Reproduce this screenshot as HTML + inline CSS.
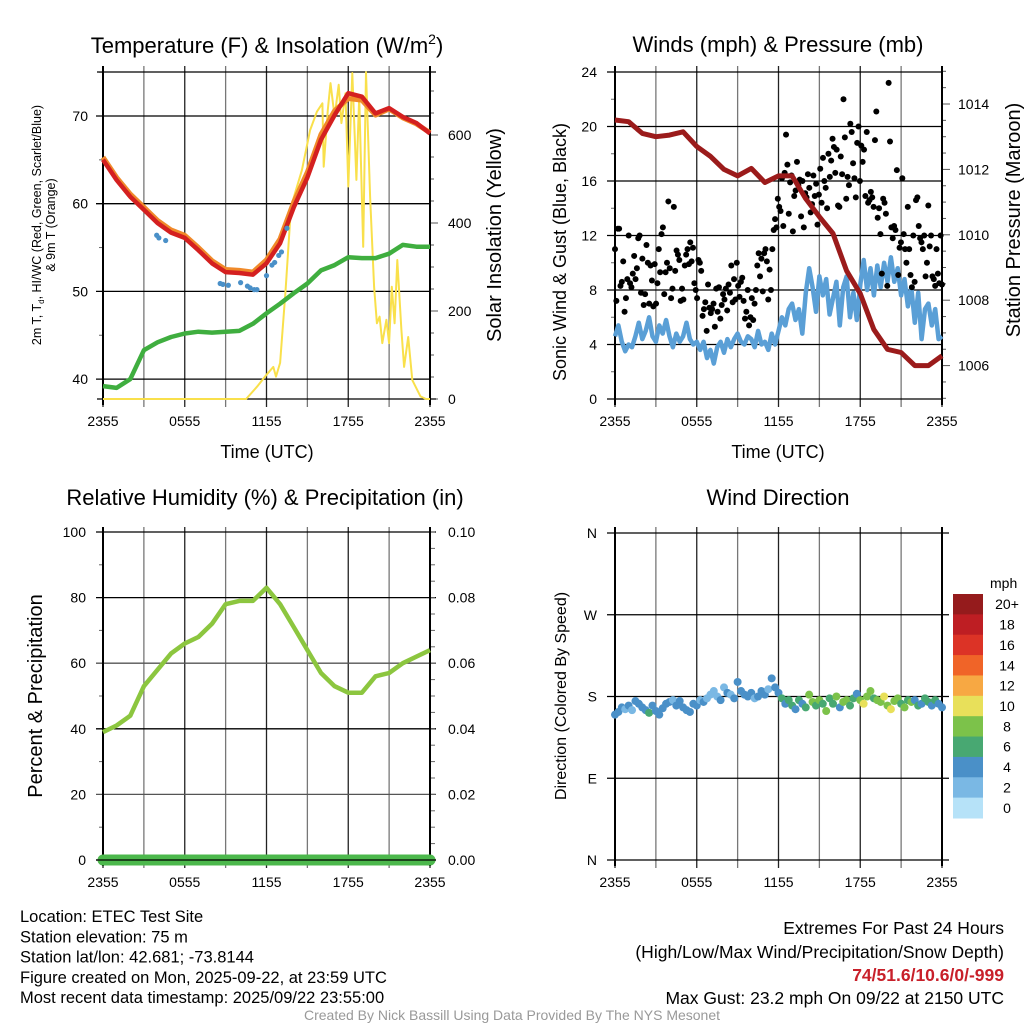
<!DOCTYPE html>
<html><head><meta charset="utf-8"><style>
html,body{margin:0;padding:0;background:#fff;}
svg{display:block;font-family:"Liberation Sans",Arial,sans-serif;}
</style></head><body>
<svg id="chart" width="1024" height="1024" viewBox="0 0 1024 1024" xmlns="http://www.w3.org/2000/svg"></svg>
<script>
// ---------- data ----------
const hourTicks = ["2355","0555","1155","1755","2355"];
const tempF = [65,62.7,60.8,59.3,57.8,56.7,56.1,54.7,53.2,52.2,52.1,51.9,53.2,55.5,59.6,63,67.3,70.1,72.6,72.2,70.3,70.9,69.9,69.2,68];
const temp9m = [65.3,63.0,61.1,59.6,58.1,57.0,56.4,55.0,53.5,52.5,52.4,52.2,53.6,56.0,60.2,63.6,67.9,70.6,72.0,71.8,70.1,70.8,69.8,69.1,68.1];
const dewF = [39.2,39.0,40,43.3,44.2,44.8,45.2,45.4,45.3,45.4,45.5,46.3,47.5,48.6,49.8,50.9,52.4,53,53.9,53.8,53.8,54.3,55.3,55.1,55.1];
const hiwcT = [3.94,4.1,4.6,8.6,8.8,9.2,10.1,10.6,10.8,11.1,11.3,12,12.4,12.6,12.9,13.1,13.5];
const hiwcV = [56.4,56.1,55.8,50.9,50.8,50.7,51.0,50.6,50.4,50.2,50.2,51.8,53.0,53.3,54.1,54.5,57.2];
const solT = [0,10.5,11.3,12,12.5,12.7,13.0,13.4,13.8,14.6,15.2,15.7,16.1,16.2,16.5,16.7,17,17.3,17.5,17.8,18,18.3,18.6,18.8,19.1,19.3,19.6,19.9,20.1,20.3,20.5,20.8,21,21.2,21.4,21.6,21.9,22.1,22.4,22.7,23.3,23.7,24];
const solV = [0,0,28,55,73,51,82,248,437,520,611,653,672,528,657,718,642,714,627,695,483,741,498,687,346,743,460,255,172,187,127,180,127,255,172,316,157,73,141,43,6,0,0];
const pressMb = [1013.51,1013.46,1013.1,1013,1013.05,1013.15,1012.7,1012.4,1012.0,1011.8,1012.03,1011.6,1011.8,1011.8,1011.1,1010.55,1010.04,1008.9,1008.2,1007.1,1006.5,1006.4,1006,1006,1006.3];
const windSpd = [4.6,5.4,4.2,3.5, 4.0,3.8,4.6,5.6, 4.4,5.0,6.0,4.6, 4.2,5.4,4.8,5.8, 4.6,3.8,4.8,4.2, 4.6,5.6,4.4,4.0, 4.2,3.6,4.2,3.0, 3.6,2.6,3.8,4.2, 3.4,4.4,3.8,4.4, 4.8,4.2,4.0,4.6, 4.4,3.8,5.0,4.0, 4.2,3.6,4.8,4.0, 5.0,6.0,5.4,6.6, 7.0,5.8,6.6,4.8, 7.8,9.6,8.2,6.4, 9.0,7.6,8.8,6.2, 7.4,8.6,5.4,8.2, 9.0,6.0,7.8,5.8, 8.4,10.2,8.0,9.6, 7.6,9.8,8.2,10.0, 8.6,10.4,8.6,9.6, 7.6,8.8,6.8,8.2, 5.6,7.8,4.4,6.6, 7.0,5.4,6.6,4.4, 4.6];
const gustSpd = [11,7.2,12.5,12.5,8.3,8.6,10.1,6.4,7.4,8.8, 12,8.5,8.2,9.2,10.5,8.8,9.6,11.8,12,7.8, 10.3,6.9,7.7,11.3,10,7,9.8,8.7,6.8,9.9, 7.0,8.5,11.0,9.3,12.1,12.6,7.7,9.3,10.0,14.5, 9.6,7.4,8.1,14.1,9.4,10.9,10.6,10.2,7.2,8.1, 7.3,9.8,10.6,11.0,9.9,11.5,10.1,11.1,8.5,8.0, 7.4,10.2,10.0,9.4,6.1,6.6,7.1,5.0,8.4,6.7, 6.3,6.6,7.0,5.3,8.1,6.4,8.2,5.9,6.9,7.7, 7.3,8.1,6.5,8.4,7.8,9.8,7.1,8.8,7.3,10.0, 8.3,7.5,8.6,8.9,7.2,5.9,6.4,8.0,5.4,6.0, 7.4,5.8,7.0,8.0,9.8,10.7,9.0,10.3,7.9,10.7, 11.0,10.1,7.3,9.5,8.0,11.0,12.4,13.2,12.6,14.7, 14.1,13.8,16.2,12.7,16.6,19.4,17.2,13.6,15.9,16.4, 12.3,14.9,15.3,17.4,15.7,16.1,13.4,16.0,12.6,15.1, 14.8,16.5,15.5,13.7,14.3,16.4,14.9,15.8,12.8,15.0, 16.9,14.4,17.7,16.0,15.5,14.0,18.0,16.3,17.5,19.1, 18.5,16.6,18.3,14.2,14.1,17.8,16.5,22.0,19.2,14.7, 16.3,15.7,20.2,19.6,17.3,16.2,14.8,18.8,20.0,16.0, 18.6,17.4,18.3,14.9,19.6,14.4,14.6,15.2,14.8,14.1, 19.0,21.1,13.3,14.0,12.1,9.2,14.7,14.4,13.6,8.3, 23.2,18.9,12.6,11.8,12.7,12.4,16.8,9.1,11.1,11.5, 16.2,12.1,11.0,10.0,14.1,11.0,9.1,8.2,12.0,8.6, 14.6,14.8,12.7,11.8,11.5,11.0,12.0,9.0,10.0,14.2, 11.2,12.0,9.0,8.8,8.3,11.0,9.2,8.5,12.0,8.4];
const rhPct = [39,41,44,53,58,63,66,68,72,78,79,79,83,78,71,64,57,53,51,51,56,57,60,62,64];
const precipIn = [0,0,0,0,0,0,0,0,0,0,0,0,0,0,0,0,0,0,0,0,0,0,0,0,0];
const dirDeg = [160,163,168,166, 170,165,175,172, 168,165,162,170, 164,160,167,172, 174,176,170,175, 168,165,163,172, 170,176,174,178, 182,186,180,176, 190,184,182,178, 196,186,182,180, 184,178,180,186, 182,188,200,190, 184,178,172,176, 170,166,176,172, 168,182,174,170, 176,172,164,178, 172,180,168,174, 176,170,178,183, 176,172,180,186, 178,176,174,180, 170,166,175,178, 172,168,176,174, 176,170,172,178, 174,170,176,172, 168];
const cbLabels = ["20+","18","16","14","12","10","8","6","4","2","0"];
const cbColors = ["#951b1c","#be1e23","#dc3326","#f06428","#f7a843","#e8e05a","#7cc24a","#48a872","#4a90c8","#7ab8e4","#b6e2f8"];

// ---------- helpers ----------
const NS="http://www.w3.org/2000/svg";
const svg=document.getElementById('chart');
function mk(tag,attrs,parent){const e=document.createElementNS(NS,tag);for(const k in attrs)e.setAttribute(k,attrs[k]);(parent||svg).appendChild(e);return e;}
function txt(x,y,s,size,anchor,extra){const e=mk('text',Object.assign({x:x,y:y,'font-size':size,'text-anchor':anchor||'middle',fill:'#000'},extra||{}));e.textContent=s;return e;}
function pathFrom(xs,ys){return xs.map((x,i)=>(i?'L':'M')+x.toFixed(1)+','+ys[i].toFixed(1)).join('');}
const W=327;
function xA(h){return 103+h*W/24;}
function xB(h){return 615+h*W/24;}
function hourIdx(arr){return arr.map((v,i)=>i*24/(arr.length-1));}

function timeAxis(xf,top,bottom,pref){
  for(let h=0;h<=24;h+=3){
    const g=mk('line',{x1:xf(h),x2:xf(h),y1:top-6,y2:bottom+8,stroke:(h%6==0)?'#222':'#777','stroke-width':1.3});
    
    
  }
  hourTicks.forEach((t,i)=>{
    const e=txt(xf(i*6),bottom+27,t,14,'middle');
    
    
  });
}

// ===== Panel 1: temperature =====
const yT=v=>116+(70-v)*8.77;
const yS=v=>399-v*0.44;
let t=txt(267,53,"Temperature (F) & Insolation (W/m",22,'middle');
const sup=mk('tspan',{'font-size':14,dy:-9},t);sup.textContent='2';
const cl=mk('tspan',{dy:9},t);cl.textContent=')';


timeAxis(xA,72,399,'temp');
[40,50,60,70].forEach(v=>{
  const l=mk('line',{x1:96,x2:430,y1:yT(v),y2:yT(v),stroke:'#000','stroke-width':1.3});
  
  
  const e=txt(88,yT(v)+5,String(v),14,'end');
  
  
});
[45,55,65,75].forEach(v=>{mk('line',{x1:99,x2:103,y1:yT(v),y2:yT(v),stroke:'#666'});});
for(let v=0;v<=700;v+=50){
  const maj=v%200==0;
  mk('line',{x1:430,x2:maj?438:434,y1:yS(v),y2:yS(v),stroke:'#555','stroke-width':1});
  if(maj){const e=txt(448,yS(v)+5,String(v),14,'start');
    
    }
}
mk('line',{x1:97,x2:436,y1:72,y2:72,stroke:'#000','stroke-width':1.3});
mk('line',{x1:97,x2:436,y1:399,y2:399,stroke:'#000','stroke-width':1.3});
mk('line',{x1:103,x2:103,y1:66,y2:405,stroke:'#000','stroke-width':2});
mk('line',{x1:430,x2:430,y1:66,y2:405,stroke:'#000','stroke-width':2});
let p;
p=mk('path',{d:pathFrom(solT.map(xA),solV.map(yS)),fill:'none',stroke:'#f9e04b','stroke-width':2,'stroke-linejoin':'round'});


p=mk('path',{d:pathFrom(hourIdx(dewF).map(xA),dewF.map(yT)),fill:'none',stroke:'#3fae3f','stroke-width':4.5,'stroke-linejoin':'round'});


p=mk('path',{d:pathFrom(hourIdx(temp9m).map(xA),temp9m.map(yT)),fill:'none',stroke:'#f08a2a','stroke-width':5,'stroke-linejoin':'round'});


p=mk('path',{d:pathFrom(hourIdx(tempF).map(xA),tempF.map(yT)),fill:'none',stroke:'#d42020','stroke-width':4.5,'stroke-linejoin':'round'});


hiwcT.forEach((h,i)=>{
  const c=mk('circle',{cx:xA(h),cy:yT(hiwcV[i]),r:2.6,fill:'#4a90c8'});
  
  
});
t=txt(267,458,"Time (UTC)",18,'middle');


t=txt(0,0,"2m T, T",12.5,'middle',{transform:'translate(41,225) rotate(-90)'});
const sb=mk('tspan',{'font-size':8,dy:3},t);sb.textContent='d';
const rest=mk('tspan',{dy:-3},t);rest.textContent=', HI/WC (Red, Green, Scarlet/Blue)';


t=txt(0,0,"& 9m T (Orange)",12.5,'middle',{transform:'translate(55,225) rotate(-90)'});


t=txt(0,0,"Solar Insolation (Yellow)",20,'middle',{transform:'translate(501,235) rotate(-90)'});



// ===== Panel 2: winds =====
const yW=v=>399-v*327/24;
const yP=v=>104+(1014-v)*32.7;
t=txt(778,52,"Winds (mph) & Pressure (mb)",22,'middle');


timeAxis(xB,72,399,'wind');
for(let v=0;v<=24;v+=4){
  const l=mk('line',{x1:607,x2:942,y1:yW(v),y2:yW(v),stroke:'#000','stroke-width':1.3});
  
  
  const e=txt(597,yW(v)+5,String(v),14,'end');
  
  
  if(v<24)mk('line',{x1:611,x2:615,y1:yW(v+2),y2:yW(v+2),stroke:'#666'});
}
for(let v=1005;v<=1015.01;v+=0.5){
  const maj=Math.abs(v-Math.round(v))<0.01&&Math.round(v)%2==0;
  mk('line',{x1:942,x2:maj?950:946,y1:yP(v),y2:yP(v),stroke:'#555'});
  if(maj){const e=txt(958,yP(v)+5,String(Math.round(v)),14,'start');
    
    }
}
mk('line',{x1:615,x2:615,y1:66,y2:405,stroke:'#000','stroke-width':2});
mk('line',{x1:942,x2:942,y1:66,y2:405,stroke:'#000','stroke-width':2});
p=mk('path',{d:pathFrom(hourIdx(windSpd).map(xB),windSpd.map(yW)),fill:'none',stroke:'#5a9fd6','stroke-width':4.5,'stroke-linejoin':'round'});


hourIdx(gustSpd).forEach((h,i)=>{
  const c=mk('circle',{cx:xB(h),cy:yW(gustSpd[i]),r:3,fill:'#000'});
  
  
});
p=mk('path',{d:pathFrom(hourIdx(pressMb).map(xB),pressMb.map(yP)),fill:'none',stroke:'#9b1b1b','stroke-width':5,'stroke-linejoin':'round'});


t=txt(778,458,"Time (UTC)",18,'middle');


t=txt(0,0,"Sonic Wind & Gust (Blue, Black)",18,'middle',{transform:'translate(566,252) rotate(-90)'});


t=txt(0,0,"Station Pressure (Maroon)",20,'middle',{transform:'translate(1020,220) rotate(-90)'});



// ===== Panel 3: RH =====
const yR=v=>860-v*3.28;
const yPr=v=>860-v*3280;
t=txt(265,505,"Relative Humidity (%) & Precipitation (in)",22,'middle');


timeAxis(xA,533,860,'rh');
for(let v=0;v<=100;v+=20){
  const l=mk('line',{x1:96,x2:436,y1:yR(v),y2:yR(v),stroke:(v%40==0||v==100)?'#000':'#555','stroke-width':1.3});
  
  
  const e=txt(86,yR(v)+5,String(v),14,'end');
  
  
  const e2=txt(448,yR(v)+5,(v/1000).toFixed(2),14,'start');
  
  
  if(v<100){mk('line',{x1:99,x2:103,y1:yR(v+10),y2:yR(v+10),stroke:'#666'});}
}
for(let v=0;v<=100;v+=5){mk('line',{x1:430,x2:435,y1:yR(v),y2:yR(v),stroke:'#666'});}
mk('line',{x1:103,x2:103,y1:527,y2:866,stroke:'#000','stroke-width':2});
mk('line',{x1:430,x2:430,y1:527,y2:866,stroke:'#000','stroke-width':2});
p=mk('path',{d:pathFrom(hourIdx(precipIn).map(xA),precipIn.map(yPr)),fill:'none',stroke:'#4cb84c','stroke-width':11,'stroke-linecap':'round'});


mk('line',{x1:96,x2:436,y1:860,y2:860,stroke:'#000','stroke-width':1.3});
p=mk('path',{d:pathFrom(hourIdx(rhPct).map(xA),rhPct.map(yR)),fill:'none',stroke:'#8cc63f','stroke-width':4.5,'stroke-linejoin':'round'});


t=txt(0,0,"Percent & Precipitation",20,'middle',{transform:'translate(42,696) rotate(-90)'});



// ===== Panel 4: wind direction =====
const yD=v=>860-v*327/360;
t=txt(778,505,"Wind Direction",22,'middle');


timeAxis(xB,533,860,'dir');
["N","E","S","W","N"].forEach((s,i)=>{
  const v=i*90;
  const l=mk('line',{x1:607,x2:949,y1:yD(v),y2:yD(v),stroke:'#000','stroke-width':1.3});
  
  
  const e=txt(597,yD(v)+5,s,14,'end');
  
  
});
mk('line',{x1:615,x2:615,y1:527,y2:866,stroke:'#000','stroke-width':2});
mk('line',{x1:942,x2:942,y1:527,y2:866,stroke:'#000','stroke-width':2});
function speedColor(s){let b=Math.floor(s/2);if(b>10)b=10;return cbColors[10-b];}
hourIdx(dirDeg).forEach((h,i)=>{
  const c=mk('circle',{cx:xB(h),cy:yD(dirDeg[i]),r:4,fill:speedColor(windSpd[i])});
  
  
});
t=txt(0,0,"Direction (Colored By Speed)",16,'middle',{transform:'translate(566,696) rotate(-90)'});


t=txt(990,588,"mph",14,'start');


const bh=224/11;
cbLabels.forEach((s,i)=>{
  const r=mk('rect',{x:953,y:594+i*bh,width:30,height:bh+0.5,fill:cbColors[i]});
  
  
  const e=txt(1007,594+i*bh+bh/2+5,s,14,'middle');
  
  
});

// ===== footer =====
["Location: ETEC Test Site","Station elevation: 75 m","Station lat/lon: 42.681; -73.8144","Figure created on Mon, 2025-09-22, at 23:59 UTC","Most recent data timestamp: 2025/09/22 23:55:00"].forEach((s,i)=>{
  const e=txt(20,922+i*20.3,s,16.5,'start');
  
  
});
t=txt(1004,934,"Extremes For Past 24 Hours",17.5,'end');


t=txt(1004,958,"(High/Low/Max Wind/Precipitation/Snow Depth)",17.5,'end');


t=txt(1004,981,"74/51.6/10.6/0/-999",17.5,'end',{fill:'#c8202a','font-weight':'bold'});


t=txt(1004,1004,"Max Gust: 23.2 mph On 09/22 at 2150 UTC",17.5,'end');


t=txt(512,1020,"Created By Nick Bassill Using Data Provided By The NYS Mesonet",14,'middle',{fill:'#999'});


</script>
</body></html>
